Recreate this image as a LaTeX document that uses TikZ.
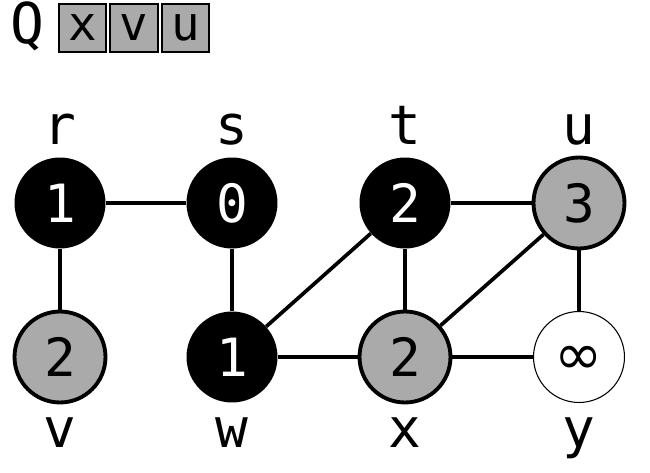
\documentclass[tikz,border=0pt]{standalone}
\usepackage{fontspec}
\setmainfont{DejaVu Sans Mono}
\newfontfamily\symfnt{DejaVu Sans}
\usetikzlibrary{matrix}
\definecolor{qgray}{HTML}{AAAAAA}
\tikzset{
  vtx/.style={circle, minimum size=1.82cm, inner sep=0pt, font=\fontsize{30}{30}\selectfont},
  done/.style={vtx, fill=black, text=white},
  front/.style={vtx, fill=qgray, draw=black, line width=2.2pt},
  fresh/.style={vtx, fill=white, draw=black, line width=0.6pt},
  lbl/.style={anchor=base, inner sep=0pt, font=\fontsize{31}{31}\selectfont},
  qcell/.style={draw, fill=qgray, line width=1.1pt, minimum size=27pt, inner sep=0pt, font=\fontsize{27}{27}\selectfont},
  edge/.style={line width=2.1pt}
}
\begin{document}
\begin{tikzpicture}[x=0.02cm, y=-0.02cm]
  \useasboundingbox (0,0) rectangle (650,473);
  % queue
  \node[font=\fontsize{32}{32}\selectfont] (q) at (27,26) {Q};
  \matrix [matrix of nodes, nodes={qcell}, column sep=1.1pt] (qm) at (134,28)
  {
    x & v & u\\
  };
  % vertices
  \node[done]  (r) at (60,203)  {1};
  \node[done]  (s) at (232,203) {0};
  \node[done]  (t) at (405,203) {2};
  \node[front] (u) at (579,203) {3};
  \node[front] (v) at (60,357)  {2};
  \node[done]  (w) at (232,357) {1};
  \node[front] (x) at (405,357) {2};
  \node[fresh] (y) at (579,357) {};
  \node[font=\symfnt\fontsize{33}{33}\selectfont, inner sep=0pt] (yv) at (579,360) {∞};
  % names
  \node[lbl] (rn) at (60,145)  {r};
  \node[lbl] (sn) at (232,145) {s};
  \node[lbl] (tn) at (405,145) {t};
  \node[lbl] (un) at (579,145) {u};
  \node[lbl] (vn) at (60,447)  {v};
  \node[lbl] (wn) at (232,447) {w};
  \node[lbl] (xn) at (405,447) {x};
  \node[lbl] (yn) at (579,447) {y};
  % edges
  \foreach \a/\b in {r/s, r/v, s/w, w/t, w/x, t/x, t/u, x/u, x/y, u/y}
    \draw[edge] (\a) -- (\b);
\end{tikzpicture}
\end{document}
